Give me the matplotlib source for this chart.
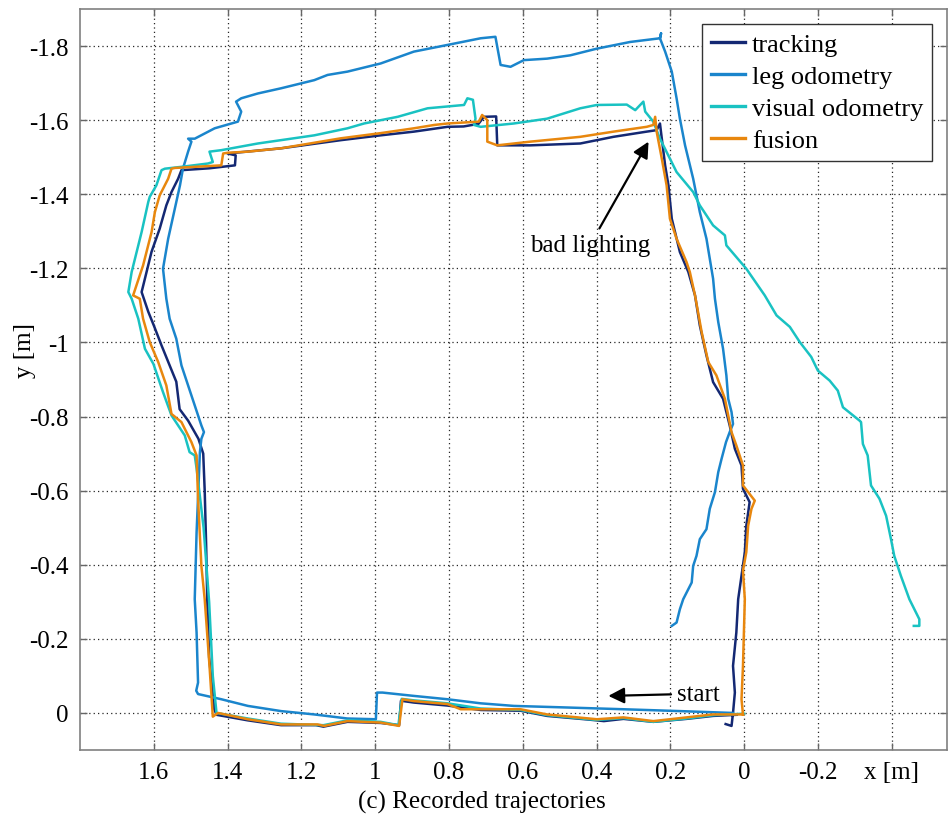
#!/usr/bin/env python3
"""Plot recorded trajectories (tracking, leg odometry, visual odometry, fusion)."""

from __future__ import annotations

from pathlib import Path

import matplotlib.pyplot as plt
import numpy as np

# Trajectory samples (x, y in metres)
tracking_x = [0.02, 0.084, 0.156, 0.246, 0.327, 0.38, 0.42, 0.534, 0.606, 0.714, 0.804, 0.895, 0.93,
              0.935, 0.985, 1.075, 1.14, 1.16, 1.255, 1.345, 1.43,
              1.436, 1.45, 1.455, 1.458, 1.462, 1.466, 1.479, 1.507, 1.53, 1.539, 1.557, 1.579, 1.6,
              1.615, 1.633, 1.606, 1.584, 1.566, 1.552, 1.534, 1.525,
              1.45, 1.38, 1.378, 1.40, 1.255, 1.093, 0.985, 0.895, 0.804, 0.76, 0.72, 0.705, 0.672,
              0.669, 0.579, 0.444, 0.354, 0.264, 0.237, 0.228,
              0.223, 0.214, 0.205, 0.196, 0.174, 0.151, 0.133, 0.12, 0.102, 0.084, 0.057, 0.039,
              0.025, 0.007, 0.003, -0.015, -0.006, -0.002, 0.007, 0.016, 0.021, 0.03, 0.025, 0.03,
              0.034, 0.05]
tracking_y = [0.005, 0.008, 0.016, 0.024, 0.016, 0.022, 0.018, 0.008, -0.006, -0.008, -0.02, -0.028, -0.033,
              0.033, 0.027, 0.024, 0.037, 0.033, 0.033, 0.02, 0.005,
              -0.01, -0.15, -0.3, -0.45, -0.6, -0.7, -0.74, -0.789, -0.82, -0.894, -0.938, -0.992, -1.046,
              -1.083, -1.136, -1.245, -1.307, -1.37, -1.406, -1.442, -1.465,
              -1.47, -1.478, -1.505, -1.51, -1.524, -1.546, -1.559, -1.569, -1.582, -1.583, -1.59, -1.609, -1.61,
              -1.532, -1.532, -1.537, -1.555, -1.569, -1.573, -1.591,
              -1.55, -1.478, -1.424, -1.334, -1.244, -1.19, -1.127, -1.046, -0.965, -0.893, -0.848, -0.776,
              -0.713, -0.668, -0.605, -0.569, -0.505, -0.434, -0.37, -0.307, -0.217, -0.127, -0.055, 0.0,
              0.035, 0.03]

leg_x = [0.03, 0.174, 0.327, 0.489, 0.624, 0.714, 0.804, 0.895, 0.98, 0.995, 0.998, 1.075, 1.165, 1.255,
         1.345, 1.417, 1.48, 1.485, 1.48, 1.484, 1.489, 1.484, 1.475, 1.471, 1.464, 1.471, 1.489, 1.507,
         1.525, 1.539, 1.557, 1.566, 1.575, 1.561, 1.543, 1.529, 1.521, 1.507, 1.498, 1.507, 1.489, 1.435,
         1.372, 1.363, 1.377, 1.363, 1.318, 1.255, 1.165, 1.129, 1.075, 0.985, 0.895, 0.804, 0.714, 0.674,
         0.66, 0.633, 0.597, 0.534, 0.471, 0.399, 0.309, 0.228, 0.225, 0.228, 0.214, 0.196, 0.183, 0.174,
         0.16, 0.138, 0.12, 0.102, 0.084, 0.079, 0.07, 0.057, 0.048, 0.043, 0.034, 0.03, 0.039, 0.049,
         0.061, 0.07, 0.079, 0.093, 0.102, 0.12, 0.129, 0.138, 0.142, 0.165, 0.174, 0.183, 0.196]
leg_y = [0.0, -0.005, -0.01, -0.015, -0.019, -0.026, -0.037, -0.046, -0.055, -0.055, 0.017, 0.015, 0.004,
         -0.005, -0.019, -0.037, -0.051, -0.06, -0.082, -0.217, -0.307, -0.487, -0.704, -0.74, -0.758,
         -0.776, -0.83, -0.884, -0.938, -1.01, -1.064, -1.118, -1.199, -1.28, -1.361, -1.424, -1.469,
         -1.515, -1.542, -1.55, -1.55, -1.578, -1.596, -1.623, -1.65, -1.659, -1.672, -1.686, -1.708,
         -1.722, -1.731, -1.753, -1.785, -1.803, -1.821, -1.825, -1.749, -1.744, -1.762, -1.766, -1.775,
         -1.793, -1.811, -1.821, -1.834, -1.821, -1.785, -1.731, -1.659, -1.604, -1.532, -1.442, -1.352,
         -1.28, -1.172, -1.118, -1.055, -0.983, -0.911, -0.848, -0.812, -0.78, -0.758, -0.731, -0.686,
         -0.65, -0.596, -0.551, -0.496, -0.469, -0.424, -0.397, -0.352, -0.307, -0.28, -0.244, -0.235]

visual_x = [0.0, 0.084, 0.156, 0.246, 0.327, 0.399, 0.534, 0.606, 0.714, 0.804, 0.895, 0.928, 0.937,
            0.985, 1.075, 1.14, 1.255, 1.345, 1.43, 1.44, 1.45, 1.465, 1.484, 1.489, 1.503, 1.516, 1.552,
            1.575, 1.601, 1.624, 1.642, 1.66, 1.669, 1.66, 1.633, 1.615, 1.611, 1.593, 1.579, 1.57, 1.525,
            1.453, 1.44, 1.449, 1.417, 1.318, 1.165, 1.075, 1.03, 0.939, 0.858, 0.759, 0.75, 0.735, 0.728,
            0.732, 0.714, 0.624, 0.534, 0.444, 0.399, 0.318, 0.295, 0.273, 0.268, 0.246, 0.228, 0.183,
            0.138, 0.12, 0.084, 0.052, 0.048, -0.006, -0.056, -0.088, -0.124, -0.151, -0.182, -0.2,
            -0.232, -0.254, -0.268, -0.313, -0.317, -0.322, -0.335, -0.344, -0.367, -0.385, -0.398,
            -0.407, -0.425, -0.448, -0.466, -0.475, -0.475, -0.46]
visual_y = [0.002, 0.006, 0.015, 0.024, 0.014, 0.019, 0.006, -0.008, -0.012, -0.026, -0.034, -0.038,
            0.033, 0.024, 0.02, 0.033, 0.029, 0.015, 0.0, -0.1, -0.3, -0.5, -0.66, -0.695, -0.704, -0.749,
            -0.803, -0.866, -0.942, -0.983, -1.064, -1.118, -1.136, -1.19, -1.298, -1.379, -1.393, -1.424,
            -1.465, -1.469, -1.474, -1.483, -1.487, -1.515, -1.519, -1.537, -1.559, -1.578, -1.591, -1.609,
            -1.632, -1.641, -1.659, -1.655, -1.604, -1.587, -1.582, -1.591, -1.604, -1.632, -1.641, -1.642,
            -1.627, -1.65, -1.623, -1.596, -1.55, -1.46, -1.406, -1.37, -1.316, -1.289, -1.262, -1.199,
            -1.127, -1.073, -1.042, -1.001, -0.961, -0.924, -0.897, -0.87, -0.825, -0.789, -0.785, -0.726,
            -0.695, -0.614, -0.578, -0.532, -0.47, -0.424, -0.37, -0.307, -0.271, -0.253, -0.235, -0.235]

fusion_x = [0.003, 0.084, 0.156, 0.246, 0.327, 0.399, 0.534, 0.606, 0.714, 0.768, 0.804, 0.895, 0.926,
            0.935, 0.985, 1.075, 1.138, 1.156, 1.255, 1.345, 1.426, 1.44, 1.449, 1.462, 1.471, 1.48, 1.484,
            1.498, 1.525, 1.552, 1.566, 1.588, 1.611, 1.629, 1.638, 1.656, 1.629, 1.606, 1.597, 1.584,
            1.561, 1.552, 1.543, 1.417, 1.412, 1.40, 1.345, 1.255, 1.093, 0.985, 0.895, 0.84, 0.804, 0.719,
            0.71, 0.696, 0.696, 0.669, 0.579, 0.444, 0.354, 0.264, 0.246, 0.241, 0.237, 0.223, 0.21, 0.201,
            0.183, 0.156, 0.147, 0.133, 0.115, 0.097, 0.075, 0.052, 0.034, 0.021, 0.003, 0.003, -0.029,
            -0.02, -0.011, -0.006, 0.003, -0.002, 0.003, 0.007, 0.003]
fusion_y = [0.004, 0.004, 0.012, 0.022, 0.012, 0.017, 0.004, -0.01, -0.01, -0.01, -0.024, -0.032, -0.037,
            0.035, 0.026, 0.022, 0.035, 0.031, 0.031, 0.017, 0.0, 0.01, -0.127, -0.307, -0.397, -0.578,
            -0.695, -0.731, -0.785, -0.807, -0.884, -0.947, -1.001, -1.064, -1.118, -1.127, -1.208, -1.298,
            -1.352, -1.397, -1.442, -1.469, -1.471, -1.478, -1.51, -1.512, -1.515, -1.524, -1.551, -1.565,
            -1.578, -1.587, -1.591, -1.596, -1.614, -1.6, -1.542, -1.532, -1.542, -1.555, -1.569, -1.582,
            -1.587, -1.609, -1.569, -1.496, -1.424, -1.334, -1.28, -1.217, -1.19, -1.127, -1.028, -0.947,
            -0.911, -0.848, -0.758, -0.722, -0.668, -0.614, -0.573, -0.551, -0.505, -0.434, -0.384, -0.307,
            -0.127, -0.037, 0.004]

x_ticks = [1.6, 1.4, 1.2, 1.0, 0.8, 0.6, 0.4, 0.2, 0.0, -0.2, -0.4]
x_tick_labels = ["1.6", "1.4", "1.2", "1", "0.8", "0.6", "0.4", "0.2", "0", "-0.2", "x [m]"]
y_ticks = [-1.8, -1.6, -1.4, -1.2, -1.0, -0.8, -0.6, -0.4, -0.2, 0.0]
y_tick_labels = ["-1.8", "-1.6", "-1.4", "-1.2", "-1", "-0.8", "-0.6", "-0.4", "-0.2", "0"]

COLORS = {
    "tracking": "#142873",
    "leg odometry": "#1a85cc",
    "visual odometry": "#19c2c2",
    "fusion": "#e8870e",
}

W, H = 952, 820


def plot_trajectories(output_path: Path) -> None:
    plt.rcParams["font.family"] = ["Liberation Serif", "DejaVu Serif"]
    plt.rcParams["font.size"] = 18

    fig = plt.figure(figsize=(W / 100, H / 100), dpi=100)
    ax = fig.add_axes([80 / W, 1 - 751 / H, 867 / W, 741 / H])

    series = [
        ("tracking", tracking_x, tracking_y),
        ("leg odometry", leg_x, leg_y),
        ("visual odometry", visual_x, visual_y),
        ("fusion", fusion_x, fusion_y),
    ]
    for name, xs, ys in series:
        ax.plot(np.array(xs), np.array(ys), color=COLORS[name], linewidth=1.8, label=name)

    # both axes reversed, as in the original plot
    ax.set_xlim(1.8, -0.55)
    ax.set_ylim(0.1, -1.9)

    ax.set_xticks(x_ticks)
    ax.set_xticklabels(x_tick_labels)
    ax.set_yticks(y_ticks)
    ax.set_yticklabels(y_tick_labels)
    ax.tick_params(direction="in", top=True, right=True, length=5, width=1,
                   color="0.4", pad=8)
    ax.grid(True, linestyle=(0, (1, 2.5)), color="0.15", linewidth=0.9)
    for spine in ax.spines.values():
        spine.set_color("0.5")
        spine.set_linewidth(1.2)

    leg = ax.legend(loc="upper right", borderaxespad=0.55, fancybox=False,
                    framealpha=1, edgecolor="0.2", handlelength=1.3,
                    handletextpad=0.25, labelspacing=0.32, borderpad=0.35,
                    fontsize=19)
    for line in leg.get_lines():
        line.set_linewidth(2.4)
    leg.get_frame().set_linewidth(1.0)

    arrow = dict(arrowstyle="-|>", color="k", lw=1.6, mutation_scale=24, shrinkA=2, shrinkB=0)
    ax.annotate("bad lighting", xy=(0.259, -1.542), xytext=(0.417, -1.264),
                ha="center", va="center", arrowprops=arrow)
    ax.annotate("start", xy=(0.368, -0.046), xytext=(0.183, -0.052),
                ha="left", va="center", arrowprops=arrow)

    fig.text(25 / W, 1 - 351 / H, "y [m]", rotation=90, ha="center", va="center")
    fig.text(482 / W, 1 - 802 / H, "(c) Recorded trajectories", ha="center", va="center")

    fig.savefig(output_path, dpi=100)
    plt.close(fig)
    print(f"Saved plot to {output_path}")


def main() -> None:
    plot_trajectories(Path("out.png"))


if __name__ == "__main__":
    main()
